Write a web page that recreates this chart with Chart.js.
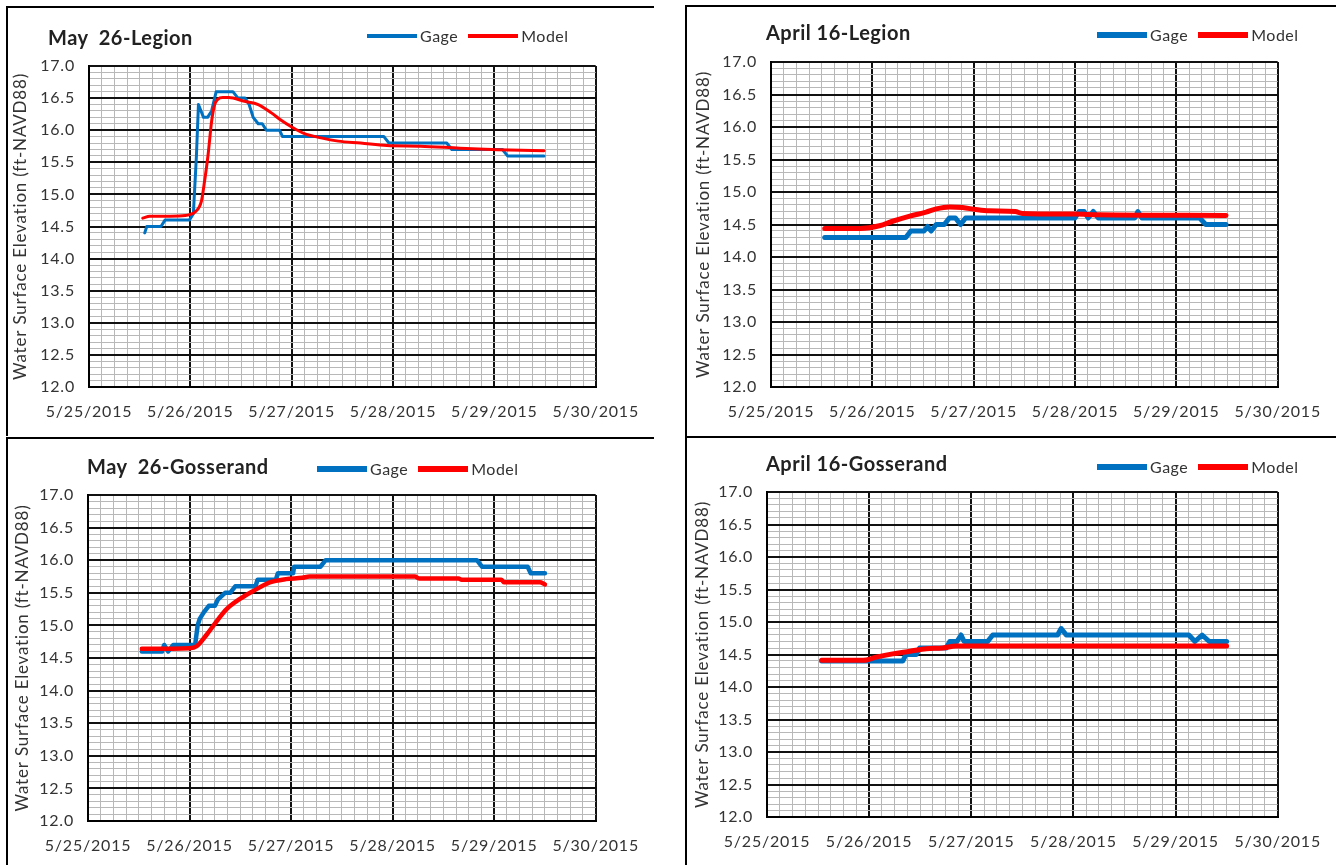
<!DOCTYPE html>
<html>
<head>
<meta charset="utf-8">
<title>Water Surface Elevation - Gage vs Model</title>
<script src="https://cdn.jsdelivr.net/npm/chart.js@4.4.1/dist/chart.umd.min.js"></script>
<style>
    body { margin: 0; background: #fff; font-family: Lato, "Open Sans", sans-serif; }
    .panel { position: absolute; box-sizing: border-box; border-top: 2px solid #000; border-left: 2px solid #000; }
    .panel .plot { position: absolute; left: 0; top: 0; right: 0; bottom: 0; }
    .ttl { position: absolute; font-weight: 700; font-size: 20px; letter-spacing: 0.5px; line-height: 24px; color: #222; white-space: pre; }
    .lgd { position: absolute; font-size: 16px; letter-spacing: 0.5px; line-height: 20px; color: #333; white-space: nowrap; }
    .lgd .sw { display: inline-block; width: 50px; vertical-align: middle; }
    .lgd .lb { display: inline-block; vertical-align: middle; margin: 0 10px 0 3px; }
</style>
</head>
<body>

<div class="panel" style="left:6px; top:6px; width:648px; height:430px;">
    <div class="plot"><canvas id="mayLegion"></canvas></div>
    <div class="ttl" style="left:40px; top:17px;">May  26-Legion</div>
    <div class="lgd" id="mayLegionLegend" style="left:359px; top:16px;"></div>
</div>
<div class="panel" style="left:685px; top:5px; width:651px; height:432px;">
    <div class="plot"><canvas id="aprLegion"></canvas></div>
    <div class="ttl" style="left:79px; top:13px;">April 16-Legion</div>
    <div class="lgd" id="aprLegionLegend" style="left:410px; top:16px;"></div>
</div>
<div class="panel" style="left:6px; top:437px; width:648px; height:428px;">
    <div class="plot"><canvas id="mayGoss"></canvas></div>
    <div class="ttl" style="left:79px; top:15px;">May  26-Gosserand</div>
    <div class="lgd" id="mayGossLegend" style="left:309px; top:18px;"></div>
</div>
<div class="panel" style="left:685px; top:436px; width:651px; height:429px;">
    <div class="plot"><canvas id="aprGoss"></canvas></div>
    <div class="ttl" style="left:79px; top:13px;">April 16-Gosserand</div>
    <div class="lgd" id="aprGossLegend" style="left:410px; top:17px;"></div>
</div>

<script>
// x values are days after 5/25/2015 00:00
const dayLabels = ["5/25/2015", "5/26/2015", "5/27/2015", "5/28/2015", "5/29/2015", "5/30/2015"];
const seriesNames = ["Gage", "Model"];
const yTitle = "Water Surface Elevation (ft-NAVD88)";

// May 26 - Legion
const mayLegionGageT = [0.55, 0.57, 0.71, 0.75, 0.99, 1.03, 1.06, 1.08, 1.13, 1.17, 1.21, 1.255, 1.42, 1.47, 1.54, 1.58, 1.62, 1.67, 1.71, 1.75, 1.88, 1.91, 2.91, 2.96, 3.53, 3.58, 4.08, 4.13, 4.49];
const mayLegionGageV = [14.4, 14.5, 14.5, 14.6, 14.6, 14.7, 15.6, 16.4, 16.2, 16.2, 16.3, 16.6, 16.6, 16.5, 16.5, 16.4, 16.2, 16.1, 16.1, 16.0, 16.0, 15.9, 15.9, 15.8, 15.8, 15.7, 15.7, 15.6, 15.6];
const mayLegionModelT = [0.53, 0.60, 0.80, 0.95, 1.00, 1.05, 1.11, 1.14, 1.176, 1.21, 1.24, 1.27, 1.32, 1.38, 1.535, 1.67, 1.80, 1.90, 2.00, 2.12, 2.29, 2.46, 2.68, 2.94, 3.27, 3.66, 3.98, 4.15, 4.49];
const mayLegionModelV = [14.63, 14.66, 14.66, 14.67, 14.69, 14.73, 14.9, 15.2, 15.63, 16.14, 16.4, 16.48, 16.51, 16.51, 16.45, 16.4, 16.27, 16.15, 16.05, 15.95, 15.88, 15.83, 15.8, 15.76, 15.75, 15.72, 15.7, 15.69, 15.68];

// April 16 - Legion
const aprLegionGageT = [0.53, 1.33, 1.38, 1.51, 1.545, 1.58, 1.63, 1.71, 1.76, 1.82, 1.87, 1.92, 3.00, 3.04, 3.09, 3.13, 3.18, 3.23, 3.59, 3.62, 3.66, 4.23, 4.29, 4.49];
const aprLegionGageV = [14.3, 14.3, 14.4, 14.4, 14.47, 14.4, 14.5, 14.5, 14.6, 14.6, 14.5, 14.6, 14.6, 14.7, 14.7, 14.6, 14.7, 14.6, 14.6, 14.7, 14.6, 14.6, 14.5, 14.5];
const aprLegionModelT = [0.53, 0.88, 1.07, 1.20, 1.37, 1.53, 1.63, 1.76, 1.89, 2.02, 2.15, 2.41, 2.48, 3.00, 3.23, 4.49];
const aprLegionModelV = [14.44, 14.44, 14.48, 14.55, 14.63, 14.69, 14.74, 14.77, 14.76, 14.73, 14.71, 14.70, 14.67, 14.66, 14.65, 14.64];

// May 26 - Gosserand
const mayGossGageT = [0.53, 0.73, 0.75, 0.79, 0.84, 1.055, 1.08, 1.10, 1.14, 1.19, 1.25, 1.28, 1.35, 1.40, 1.45, 1.65, 1.67, 1.85, 1.87, 2.02, 2.03, 2.29, 2.34, 3.83, 3.88, 4.33, 4.36, 4.50];
const mayGossGageV = [14.6, 14.6, 14.7, 14.6, 14.7, 14.7, 15.0, 15.1, 15.2, 15.3, 15.3, 15.4, 15.5, 15.5, 15.6, 15.6, 15.7, 15.7, 15.8, 15.8, 15.9, 15.9, 16.0, 16.0, 15.9, 15.9, 15.8, 15.8];
const mayGossModelT = [0.53, 1.00, 1.07, 1.17, 1.27, 1.365, 1.50, 1.63, 1.79, 1.95, 2.11, 2.18, 3.22, 3.26, 3.65, 3.68, 4.07, 4.10, 4.45, 4.50];
const mayGossModelV = [14.64, 14.65, 14.68, 14.86, 15.07, 15.25, 15.41, 15.53, 15.66, 15.71, 15.73, 15.75, 15.75, 15.72, 15.72, 15.70, 15.70, 15.66, 15.66, 15.63];

// April 16 - Gosserand
const aprGossGageT = [0.535, 1.33, 1.36, 1.46, 1.495, 1.755, 1.79, 1.86, 1.90, 1.93, 2.16, 2.21, 2.845, 2.88, 2.93, 4.13, 4.19, 4.26, 4.33, 4.50];
const aprGossGageV = [14.4, 14.4, 14.5, 14.5, 14.6, 14.6, 14.7, 14.7, 14.8, 14.7, 14.7, 14.8, 14.8, 14.9, 14.8, 14.8, 14.7, 14.8, 14.7, 14.7];
const aprGossModelT = [0.535, 0.94, 1.07, 1.23, 1.40, 1.56, 1.72, 1.85, 4.50];
const aprGossModelV = [14.41, 14.41, 14.46, 14.51, 14.55, 14.59, 14.60, 14.63, 14.63];

const gageColor = "#0070c0";
const modelColor = "#ff0000";
const labelColor = "#333333";
const majorGrid = "#111111";
const minorGrid = "#b8b8b8";
const fontFamily = "Lato, 'Open Sans', sans-serif";

// a little letter spacing, the source chart's text is rather loose
const spacingPlugin = {
    id: "letterSpacing",
    beforeUpdate(chart) { chart.ctx.letterSpacing = "0.8px"; },
    beforeDraw(chart) { chart.ctx.letterSpacing = "0.8px"; },
};

function isMajor(v, step) {
    const r = v / step;
    return Math.abs(r - Math.round(r)) < 1e-6;
}

function toPoints(t, v) {
    return t.map((x, i) => ({ x: x, y: v[i] }));
}

function buildLegend(chart, elId) {
    const box = document.getElementById(elId);
    chart.data.datasets.forEach((ds) => {
        const sw = document.createElement("span");
        sw.className = "sw";
        sw.style.height = (ds.borderWidth + 1) + "px";
        sw.style.background = ds.borderColor;
        const lb = document.createElement("span");
        lb.className = "lb";
        lb.textContent = ds.label;
        box.appendChild(sw);
        box.appendChild(lb);
    });
}

function makeChart(cfg) {
    const ctx = document.getElementById(cfg.id).getContext("2d");
    const chart = new Chart(ctx, {
        type: "line",
        data: {
            datasets: [
                {
                    label: seriesNames[0],
                    data: toPoints(cfg.gageT, cfg.gageV),
                    borderColor: gageColor,
                    backgroundColor: gageColor,
                    borderWidth: cfg.lw,
                    borderJoinStyle: "round",
                    borderCapStyle: "round",
                    pointRadius: 0,
                    tension: 0,
                    order: 1,
                },
                {
                    label: seriesNames[1],
                    data: toPoints(cfg.modelT, cfg.modelV),
                    borderColor: modelColor,
                    backgroundColor: modelColor,
                    borderWidth: cfg.lw,
                    borderJoinStyle: "round",
                    borderCapStyle: "round",
                    pointRadius: 0,
                    cubicInterpolationMode: "monotone",
                    order: 0,
                },
            ],
        },
        options: {
            responsive: true,
            maintainAspectRatio: false,
            animation: false,
            layout: {
                padding: { left: 0, right: cfg.padRight, top: cfg.padTop, bottom: 0 },
            },
            plugins: {
                legend: { display: false },
                tooltip: { enabled: false },
            },
            scales: {
                x: {
                    type: "linear",
                    min: 0,
                    max: 5,
                    afterFit: (scale) => { scale.height = cfg.xHeight; },
                    ticks: {
                        stepSize: 0.125,
                        autoSkip: false,
                        maxTicksLimit: 100,
                        maxRotation: 0,
                        minRotation: 0,
                        padding: 15,
                        color: labelColor,
                        font: { family: fontFamily, size: 16 },
                        callback: (v) => (isMajor(v, 1) ? dayLabels[Math.round(v)] : ""),
                    },
                    grid: {
                        drawTicks: false,
                        color: (c) => (isMajor(c.tick.value, 1) ? majorGrid : minorGrid),
                        lineWidth: (c) => (isMajor(c.tick.value, 1) ? 2 : 1),
                    },
                    border: { color: "#000", width: 2 },
                },
                y: {
                    type: "linear",
                    min: 12,
                    max: 17,
                    afterFit: (scale) => { scale.width = cfg.yWidth; },
                    ticks: {
                        stepSize: 0.1,
                        autoSkip: false,
                        maxTicksLimit: 100,
                        padding: 14,
                        color: labelColor,
                        font: { family: fontFamily, size: 16 },
                        callback: (v) => (isMajor(v, 0.5) ? v.toFixed(1) : ""),
                    },
                    grid: {
                        drawTicks: false,
                        color: (c) => (isMajor(c.tick.value, 0.5) ? majorGrid : minorGrid),
                        lineWidth: (c) => (isMajor(c.tick.value, 0.5) ? 2 : 1),
                    },
                    border: { color: "#000", width: 2 },
                    title: {
                        display: true,
                        text: yTitle,
                        color: labelColor,
                        font: { family: fontFamily, size: 17 },
                        padding: { top: cfg.titlePad, bottom: 0 },
                    },
                },
            },
        },
        plugins: [spacingPlugin],
    });
    buildLegend(chart, cfg.id + "Legend");
    return chart;
}

makeChart({ id: "mayLegion", gageT: mayLegionGageT, gageV: mayLegionGageV, modelT: mayLegionModelT, modelV: mayLegionModelV,
    lw: 3, padRight: 53, padTop: 58, xHeight: 49, yWidth: 81, titlePad: 2 });
makeChart({ id: "aprLegion", gageT: aprLegionGageT, gageV: aprLegionGageV, modelT: aprLegionModelT, modelV: aprLegionModelV,
    lw: 5, padRight: 56, padTop: 55, xHeight: 50, yWidth: 84, titlePad: 6 });
makeChart({ id: "mayGoss", gageT: mayGossGageT, gageV: mayGossGageV, modelT: mayGossModelT, modelV: mayGossModelV,
    lw: 4.5, padRight: 55, padTop: 56, xHeight: 44, yWidth: 80, titlePad: 4 });
makeChart({ id: "aprGoss", gageT: aprGossGageT, gageV: aprGossGageV, modelT: aprGossModelT, modelV: aprGossModelV,
    lw: 5, padRight: 57, padTop: 54, xHeight: 48, yWidth: 80, titlePad: 5 });
</script>
</body>
</html>
